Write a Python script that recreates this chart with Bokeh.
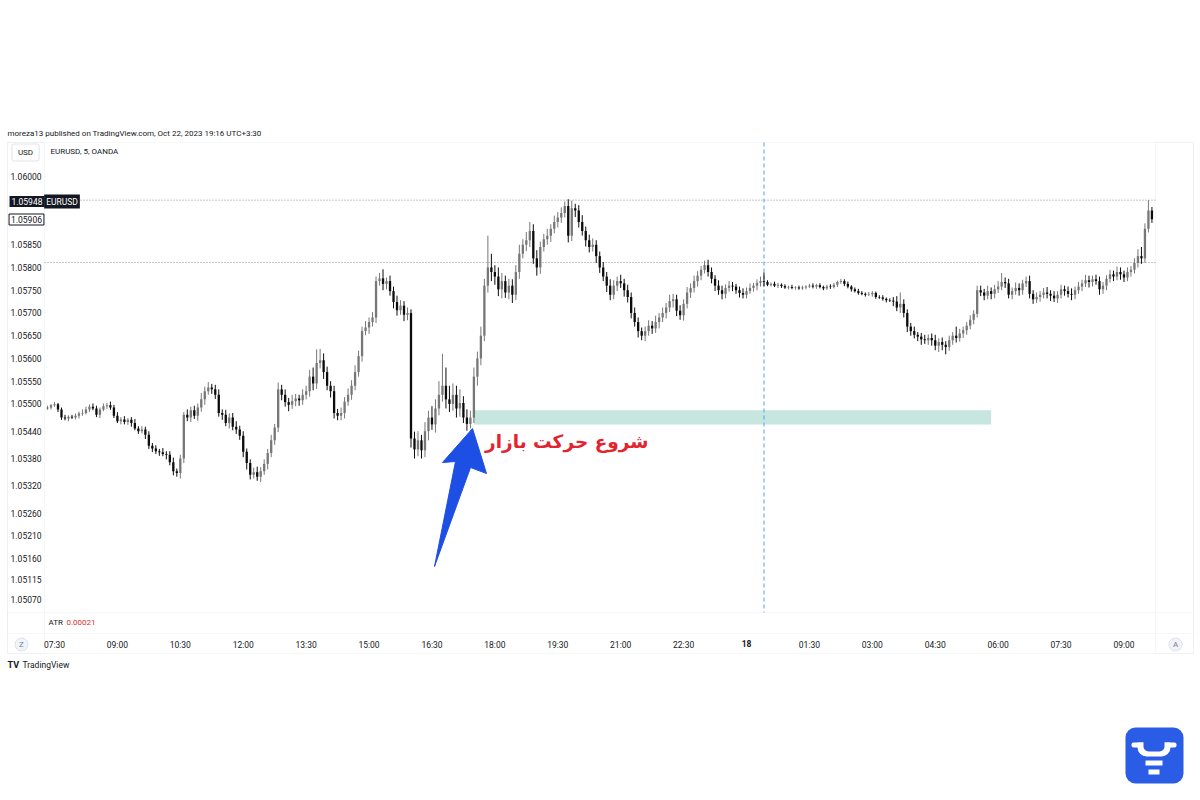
from bokeh.plotting import figure
from bokeh.models import Range1d, FixedTicker, Label, BoxAnnotation, PrintfTickFormatter, LinearAxis
from bokeh.embed import file_html
from bokeh.resources import INLINE

# ---------------- data ----------------
BASE_PRICE = 1.05
FIRST_OPEN_PIPS = 490
START_MIN = -10      # minutes after 07:30 of the first candle (07:20)
BAR_MINUTES = 5

CLOSE_PIPS = [
    492, 497, 499, 488, 470, 468, 472, 470,
    474, 479, 480, 488, 494, 490, 476, 488, 495, 497, 492,
    474, 462, 466, 460, 465, 458, 446, 440, 444, 432, 408, 402,
    396, 394, 390, 388, 372, 352, 348, 380,
    476,
    470, 486, 474, 492, 510, 528, 536, 532,
    520, 480, 476, 458, 470, 450, 444, 430, 395, 370,
    344, 350, 340, 352,
    368, 392, 420, 448,
    532,
    520, 504, 498, 506, 512, 508, 520,
    528, 560, 545, 590,
    596, 570, 540, 528, 480, 474,
    480, 505, 520, 540, 570,
    605, 660, 668, 680, 690,
    770, 776, 764, 770,
    748, 724, 706, 716, 696, 700,
    424,
    400, 420, 398,
    440, 470, 455, 490, 520,
    540, 510, 500,
    520, 490, 502, 470, 456,
    470, 560,
    600, 650, 760,
    800, 790,
    780, 752, 770, 745, 760, 740,
    790, 830, 850, 860,
    880, 820, 800, 845,
    862, 870, 885, 900, 910,
    920, 935, 870, 930, 925,
    900, 880, 860, 845, 850, 825,
    800, 780, 760, 740,
    760, 770, 765, 750, 735,
    700, 680, 660, 650,
    660, 672, 666, 680, 690,
    700, 712, 726, 730, 705,
    695, 720, 745,
    755, 770, 782, 795, 805, 790,
    775, 760, 750, 742,
    755, 760, 758, 750, 744, 740,
    748, 755, 760, 766, 770, 768,
    762, 764, 760, 762, 759, 756, 757, 755, 756, 754,
    756, 758, 760, 758, 761, 757, 754, 758, 757, 762, 768, 770,
    764, 758, 752, 748, 744,
    742, 740, 741, 744, 735, 734, 731, 728, 727,
    725, 712, 720, 700, 670,
    660, 652, 648, 642, 640, 645,
    640, 628, 636, 630, 625,
    640, 650, 645, 655, 662,
    672, 685, 698,
    750,
    745, 738, 748, 742, 752, 758,
    768, 765,
    740, 748, 755, 750, 765, 770, 742,
    730, 735, 740, 745, 742, 738, 732, 740,
    752, 748, 742, 740, 750,
    758, 765, 772, 768, 774, 770,
    752, 760,
    775, 785, 780, 790, 785, 778, 790, 795,
    810, 825, 820,
    885, 925, 906,
]

WICK_UP_PIPS = [
    4, 3, 5, 3, 4, 6, 3, 4,
    5, 4, 8, 6, 5, 7, 6, 4, 6, 5, 8,
    6, 8, 5, 7, 4, 6, 9, 5, 7, 6, 8, 6,
    7, 5, 9, 6, 8, 10, 6, 8,
    6,
    12, 8, 10, 9, 14, 10, 12, 8,
    10, 12, 8, 11, 9, 10, 12, 8, 10, 7,
    8, 10, 12, 9,
    10, 9, 12, 8,
    15,
    10, 12, 9, 14, 10, 8, 12,
    12, 15, 20, 30,
    25, 15, 12, 10, 12, 9,
    12, 10, 14, 12, 15,
    12, 10, 14, 10, 12,
    10, 12, 20, 8,
    12, 10, 14, 12, 10, 12,
    8,
    15, 20, 12,
    20, 15, 25, 20, 30,
    70, 40, 30,
    25, 20, 30, 15, 18,
    15, 20,
    15, 20, 15,
    70, 30,
    15, 20, 18, 12, 15, 14,
    15, 20, 12, 18,
    20, 15, 18, 12,
    12, 15, 10, 14, 12,
    12, 10, 15, 17, 10,
    12, 15, 10, 12, 14, 10,
    10, 12, 10, 14,
    12, 10, 14, 10, 12,
    10, 12, 10, 8,
    10, 12, 10, 14, 10,
    12, 10, 14, 12, 10,
    12, 10, 12,
    10, 12, 10, 8, 10, 12,
    10, 8, 12, 10,
    8, 10, 8, 6, 8, 10,
    8, 10, 6, 8, 10, 19,
    4, 3, 5, 4, 3, 4, 3, 5, 3, 4,
    4, 3, 4, 5, 3, 4, 3, 4, 5, 4, 3, 5,
    4, 5, 3, 4, 5,
    4, 3, 5, 4, 3, 4, 5, 3, 4,
    8, 12, 25, 10, 8,
    8, 10, 6, 8, 10, 8,
    10, 12, 8, 10, 8,
    10, 8, 20, 10, 8,
    8, 10, 8,
    10,
    10, 8, 12, 8, 10, 12,
    20, 10,
    10, 8, 12, 10, 8, 10, 12,
    8, 10, 8, 10, 12, 8, 10, 8,
    10, 8, 10, 12, 8,
    10, 8, 12, 10, 8, 10,
    10, 8,
    8, 10, 8, 12, 10, 8, 10, 8,
    10, 15, 20,
    12, 23, 8,
]

WICK_DN_PIPS = [
    3, 4, 3, 6, 5, 4, 6, 3,
    4, 6, 5, 3, 6, 4, 5, 7, 4, 6, 5,
    5, 4, 7, 5, 6, 8, 4, 6, 5, 9, 7, 8,
    6, 8, 5, 10, 7, 9, 8, 12,
    10,
    8, 10, 7, 11, 9, 12, 8, 10,
    9, 8, 11, 7, 12, 8, 10, 9, 12, 14,
    10, 8, 9, 12,
    8, 12, 9, 10,
    10,
    12, 10, 14, 9, 11, 12, 10,
    10, 12, 15, 12,
    12, 15, 10, 14, 12, 10,
    10, 12, 9, 11, 10,
    10, 12, 9, 14, 10,
    12, 10, 14, 12,
    10, 14, 12, 10, 14, 12,
    20,
    20, 15, 18,
    15, 20, 12, 18, 15,
    15, 20, 18,
    15, 20, 18, 12, 15,
    10, 12,
    20, 15, 12,
    15, 20,
    18, 15, 20, 12, 15, 18,
    12, 15, 10, 14,
    15, 12, 18, 14,
    10, 12, 14, 10, 12,
    12, 10, 15, 12, 14,
    12, 10, 14, 12, 10, 15,
    12, 10, 14, 12,
    10, 12, 10, 14, 12,
    12, 10, 14, 10,
    12, 10, 12, 10, 14,
    10, 12, 10, 14, 12,
    10, 12, 10,
    12, 10, 12, 10, 8, 10,
    10, 12, 10, 12,
    10, 8, 10, 8, 10, 8,
    8, 6, 8, 10, 8, 10,
    3, 4, 3, 5, 4, 3, 4, 3, 4, 3,
    3, 4, 3, 4, 5, 3, 4, 3, 4, 3, 5, 4,
    5, 4, 5, 3, 4,
    3, 4, 3, 5, 4, 3, 4, 5, 3,
    10, 8, 12, 10, 12,
    10, 8, 10, 12, 8, 10,
    12, 10, 14, 12, 16,
    8, 10, 10, 8, 10,
    10, 8, 10,
    8,
    8, 10, 8, 12, 10, 8,
    8, 10,
    8, 10, 8, 12, 10, 8, 10,
    10, 8, 10, 8, 10, 12, 8, 10,
    8, 10, 8, 12, 10,
    8, 10, 8, 12, 10, 8,
    12, 10,
    10, 8, 10, 8, 12, 10, 8, 10,
    8, 10, 12,
    10, 8, 8,
]

PRICE_TICKS = [1.06000, 1.05850, 1.05800, 1.05750, 1.05700, 1.05650, 1.05600,
               1.05550, 1.05500, 1.05440, 1.05380, 1.05320, 1.05260, 1.05210,
               1.05160, 1.05115, 1.05070]
TIME_TICKS = [0, 90, 180, 270, 360, 450, 540, 630, 720, 810, 900, 990,
              1080, 1170, 1260, 1350, 1440, 1530]
TIME_LABELS = ["07:30", "09:00", "10:30", "12:00", "13:30", "15:00", "16:30",
               "18:00", "19:30", "21:00", "22:30", "18", "01:30", "03:00",
               "04:30", "06:00", "07:30", "09:00"]
DAY_TICK = 990   # the day-change tick, shown in bold

HLINE_PRICES = [1.05948, 1.05811]
VLINE_MINUTE = 1015
ZONE_MIN = [600, 1340]
ZONE_PRICE = [1.05455, 1.05486]
LAST_HIGH = "1.05948"
LAST_CLOSE = "1.05906"
ATR_VALUE = "0.00021"
NOTE_TEXT = "شروع حرکت بازار"

n = len(CLOSE_PIPS)
if not (len(WICK_UP_PIPS) == n and len(WICK_DN_PIPS) == n):
    raise SystemExit("length mismatch %d %d %d" % (n, len(WICK_UP_PIPS), len(WICK_DN_PIPS)))

# ---------------- page geometry helpers (page px -> data) ----------------
PX_X0, PX_PER_MIN = 54.0, 0.699
PX_Y0, PRICE_Y0, PRICE_PER_PX = 176.0, 1.06, 2.1986e-5


def dx(px):
    return (px - PX_X0) / PX_PER_MIN


def dy(py):
    return PRICE_Y0 - (py - PX_Y0) * PRICE_PER_PX


AREA_L, AREA_R, AREA_T, AREA_B = 44, 1155, 142, 612
W, H = 1200, 792

p = figure(width=W, height=H, output_backend="svg", toolbar_location=None,
           x_range=Range1d(dx(0), dx(W)), y_range=Range1d(dy(H), dy(0)),
           min_border=0)
p.outline_line_color = None
p.background_fill_color = "white"
p.border_fill_color = "white"
p.grid.visible = False


def style_axis(ax, standoff):
    ax.axis_line_color = None
    ax.major_tick_line_color = None
    ax.minor_tick_line_color = None
    ax.major_tick_out = 0
    ax.major_tick_in = 0
    ax.major_label_standoff = standoff
    ax.major_label_text_font = "Roboto"
    ax.major_label_text_font_size = "8.5px"
    ax.major_label_text_color = "#131722"


# axes (drawn at fixed positions inside the canvas)
ya = p.yaxis[0]
ya.fixed_location = dx(AREA_L)
ya.ticker = FixedTicker(ticks=PRICE_TICKS)
ya.formatter = PrintfTickFormatter(format="%.5f")
style_axis(ya, 3)

xa = p.xaxis[0]
xa.fixed_location = dy(634)
xa.ticker = FixedTicker(ticks=TIME_TICKS)
xa.major_label_overrides = {t: ("" if t == DAY_TICK else s) for t, s in zip(TIME_TICKS, TIME_LABELS)}
style_axis(xa, 5)

xa2 = LinearAxis(fixed_location=dy(634), ticker=FixedTicker(ticks=[DAY_TICK]),
                 major_label_overrides={DAY_TICK: TIME_LABELS[TIME_TICKS.index(DAY_TICK)]})
style_axis(xa2, 5)
xa2.major_label_text_font_style = "bold"
p.add_layout(xa2, "below")

# frame / pane borders
BORDER = "#e0e3eb"
for (l, r, t, b) in [(7, 1193, 142, 653), (7, 1193, AREA_B, 633),
                     (7, AREA_L, 142, 653), (AREA_R, 1193, 142, 653)]:
    p.add_layout(BoxAnnotation(left=dx(l), right=dx(r), top=dy(t), bottom=dy(b),
                               fill_color=None, line_color=BORDER, line_width=1,
                               level="underlay"))

# zone box (under candles)
p.quad(left=[ZONE_MIN[0]], right=[ZONE_MIN[1]], bottom=[ZONE_PRICE[0]], top=[ZONE_PRICE[1]],
       fill_color="#c6e6df", line_color=None)

# horizontal dotted lines & vertical dashed line across the price pane
p.segment(x0=[dx(AREA_L)] * len(HLINE_PRICES), x1=[dx(AREA_R)] * len(HLINE_PRICES),
          y0=HLINE_PRICES, y1=HLINE_PRICES, line_color="#8a8d96", line_dash="1 2", line_width=1)
p.segment(x0=[VLINE_MINUTE], x1=[VLINE_MINUTE], y0=[dy(AREA_T)], y1=[dy(AREA_B)],
          line_color="#5b9cf6", line_dash="4 3", line_width=1)

# candles
closes = [BASE_PRICE + v / 1e5 for v in CLOSE_PIPS]
opens = [BASE_PRICE + FIRST_OPEN_PIPS / 1e5] + closes[:-1]
tops = [max(o, c) for o, c in zip(opens, closes)]
bots = [min(o, c) for o, c in zip(opens, closes)]
highs = [t + w / 1e5 for t, w in zip(tops, WICK_UP_PIPS)]
lows = [b - w / 1e5 for b, w in zip(bots, WICK_DN_PIPS)]
times = [START_MIN + BAR_MINUTES * i for i in range(n)]
UP, DOWN = "#777777", "#0c0c0c"
cols = [UP if c >= o else DOWN for o, c in zip(opens, closes)]

p.segment(x0=times, y0=highs, x1=times, y1=lows, line_color=cols, line_width=1)
p.vbar(x=times, width=3.3, top=tops, bottom=bots, fill_color=cols, line_color=None)

# arrow
ARROW_PX = [(472, 428), (442, 462), (455, 461), (434, 566), (470, 467), (486, 473)]
p.patch(x=[dx(a) for a, b in ARROW_PX], y=[dy(b) for a, b in ARROW_PX],
        fill_color="#1d4fe4", line_color="#1d4fe4", line_width=1)


def lab(px, py, text, size="8px", color="#131722", align="left", style="normal",
        bg=None, border=None, pad=0, radius=0, font="Roboto"):
    p.add_layout(Label(x=dx(px), y=dy(py), text=text, text_align=align, text_baseline="middle",
                       text_font=font, text_font_size=size, text_color=color,
                       text_font_style=style, background_fill_color=bg,
                       border_line_color=border, padding=pad, border_radius=radius))


lab(7, 133, "moreza13 published on TradingView.com, Oct 22, 2023 19:16 UTC+3:30", size="8px")
lab(50, 151, "EURUSD, 5, OANDA", size="8px")
lab(25, 152, "USD", size="8px", align="center", border=BORDER, bg="white", pad=(6, 6, 4, 4), radius=2)
lab(26.5, 201, LAST_HIGH, size="8.5px", align="center", color="white", bg="#131722", pad=(2, 2, 2, 2))
lab(61.5, 201, "EURUSD", size="8.5px", align="center", color="white", bg="#131722", pad=(2, 2, 2, 2))
lab(26, 219, LAST_CLOSE, size="8.5px", align="center", color="#131722", bg="white",
    border="#131722", pad=(2, 2, 2, 2))
lab(48, 622, "ATR", size="8px")
lab(66, 622, ATR_VALUE, size="8px", color="#d0312d")
lab(21, 644, "Z", size="8px", align="center", color="#787b86", bg="#f0f3fa", border=BORDER,
    pad=(4, 4, 2, 2), radius=7)
lab(1175, 644, "A", size="8px", align="center", color="#787b86", bg="#f0f3fa", border=BORDER,
    pad=(4, 4, 2, 2), radius=7)
lab(7, 664, "TV", size="9px", style="bold")
lab(22, 664, "TradingView", size="8.5px")

# annotation text
lab(648, 441, NOTE_TEXT, size="18.5px", align="right", color="#e3232f", style="bold",
    font="DejaVu Sans")

# logo badge bottom-right
ICON_BLUE = "#2a5ce6"
p.add_layout(BoxAnnotation(left=dx(1125), right=dx(1183), top=dy(727), bottom=dy(783),
                           fill_color=ICON_BLUE, fill_alpha=1, line_color=None, border_radius=10))
p.add_layout(BoxAnnotation(left=dx(1131), right=dx(1176), top=dy(742), bottom=dy(747),
                           fill_color="white", fill_alpha=1, line_color=None, border_radius=2))
p.add_layout(BoxAnnotation(left=dx(1137), right=dx(1170), top=dy(742), bottom=dy(756),
                           fill_color="white", fill_alpha=1, line_color=None,
                           border_radius=(0, 0, 9, 9)))
p.add_layout(BoxAnnotation(left=dx(1143), right=dx(1164), top=dy(740), bottom=dy(751),
                           fill_color=ICON_BLUE, fill_alpha=1, line_color=None,
                           border_radius=(0, 0, 5, 5)))
p.add_layout(BoxAnnotation(left=dx(1145), right=dx(1162), top=dy(760), bottom=dy(765),
                           fill_color="white", fill_alpha=1, line_color=None))
p.add_layout(BoxAnnotation(left=dx(1148), right=dx(1159), top=dy(769), bottom=dy(774),
                           fill_color="white", fill_alpha=1, line_color=None))

open("out.html", "w").write(file_html(p, INLINE))
